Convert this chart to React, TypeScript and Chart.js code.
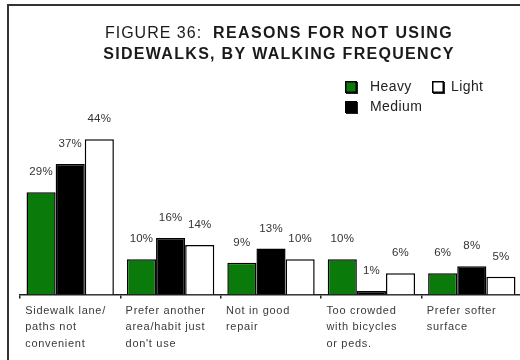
import React, { useEffect, useRef } from "react";
import { Chart, registerables } from "chart.js";

Chart.register(...registerables);

const categories: string[][] = [
  ["Sidewalk lane/", "paths not", "convenient"],
  ["Prefer another", "area/habit just", "don't use"],
  ["Not in good", "repair"],
  ["Too crowded", "with bicycles", "or peds."],
  ["Prefer softer", "surface"],
];
const seriesNames = ["Heavy", "Medium", "Light"];
const heavy = [29, 10, 9, 10, 6];
const medium = [37, 16, 13, 1, 8];
const light = [44, 14, 10, 6, 5];
const seriesColors = ["#0a7a0a", "#000000", "#ffffff"];
const titleFigure = "FIGURE 36:  ";
const titleLine1 = "REASONS FOR NOT USING";
const titleLine2 = "SIDEWALKS, BY WALKING FREQUENCY";
const legendOrder = [0, 2, 1];

const FONT = "'Liberation Sans', Arial, sans-serif";

const decor = {
  id: "decor",
  beforeDraw(chart: any) {
    const ctx = chart.ctx as CanvasRenderingContext2D;
    ctx.save();
    ctx.fillStyle = "#ffffff";
    ctx.fillRect(0, 0, chart.width, chart.height);
    // frame
    ctx.fillStyle = "#333333";
    ctx.fillRect(7, 4, 2, chart.height);
    ctx.fillRect(7, 4, chart.width, 2);

    // title
    ctx.textBaseline = "alphabetic";
    ctx.fillStyle = "#1a1a1a";
    (ctx as any).letterSpacing = "1px";
    ctx.font = `16px ${FONT}`;
    const w1 = ctx.measureText(titleFigure).width;
    (ctx as any).letterSpacing = "1.4px";
    ctx.font = `bold 16px ${FONT}`;
    const w2 = ctx.measureText(titleLine1).width;
    const cx = 279;
    const x = cx - (w1 + w2) / 2;
    ctx.textAlign = "left";
    (ctx as any).letterSpacing = "1px";
    ctx.font = `16px ${FONT}`;
    ctx.fillText(titleFigure, x, 38);
    (ctx as any).letterSpacing = "1.4px";
    ctx.font = `bold 16px ${FONT}`;
    ctx.fillText(titleLine1, x + w1, 38);
    (ctx as any).letterSpacing = "1.3px";
    ctx.textAlign = "center";
    ctx.fillText(titleLine2, cx, 59);

    // legend
    (ctx as any).letterSpacing = "0.4px";
    ctx.font = `14px ${FONT}`;
    ctx.textAlign = "left";
    ctx.textBaseline = "middle";
    const slots = [
      { x: 345, y: 87 },
      { x: 432, y: 87 },
      { x: 345, y: 107 },
    ];
    legendOrder.forEach((di, k) => {
      const s = slots[k];
      const ds = chart.data.datasets[di];
      ctx.fillStyle = "#222";
      ctx.fillRect(s.x + 1, s.y - 5, 12, 12);
      ctx.fillStyle = ds.backgroundColor;
      ctx.fillRect(s.x, s.y - 6, 12, 12);
      ctx.strokeStyle = "#000";
      ctx.lineWidth = 1.5;
      ctx.strokeRect(s.x + 0.75, s.y - 5.25, 10.5, 10.5);
      ctx.fillStyle = "#222";
      ctx.fillText(ds.label, s.x + (k === 1 ? 19 : 25), s.y);
    });
    ctx.restore();
    (ctx as any).letterSpacing = "0.7px";
  },
  afterDatasetsDraw(chart: any) {
    const ctx = chart.ctx as CanvasRenderingContext2D;
    ctx.save();
    (ctx as any).letterSpacing = "0.2px";
    ctx.font = `11.5px ${FONT}`;
    ctx.fillStyle = "#333";
    ctx.textAlign = "center";
    ctx.textBaseline = "alphabetic";
    chart.data.datasets.forEach((ds: any, di: number) => {
      const meta = chart.getDatasetMeta(di);
      meta.data.forEach((bar: any, i: number) => {
        ctx.fillText(`${ds.data[i]}%`, bar.x, bar.y - 17);
      });
    });
    ctx.restore();
    (ctx as any).letterSpacing = "0.7px";
  },
  afterDraw(chart: any) {
    (chart.ctx as any).letterSpacing = "0px";
  },
};

export default function App() {
  const ref = useRef<HTMLCanvasElement>(null);
  useEffect(() => {
    if (!ref.current) return;
    const chart = new Chart(ref.current, {
      type: "bar",
      data: {
        labels: categories,
        datasets: [heavy, medium, light].map((d, i) => ({
          label: seriesNames[i],
          data: d,
          backgroundColor: seriesColors[i],
          borderColor: "#000",
          borderWidth: 1.5,
          categoryPercentage: 0.87,
          barPercentage: 1,
        })),
      },
      options: {
        animation: false,
        responsive: false,
        devicePixelRatio: 1,
        layout: { padding: { left: 20, right: 23, top: 118, bottom: 4 } },
        plugins: {
          legend: { display: false },
          title: { display: false },
          tooltip: { enabled: false },
        },
        scales: {
          y: { display: false, min: 0, max: 50 },
          x: {
            border: { display: true, color: "#222", width: 1.5 },
            grid: {
              offset: true,
              drawOnChartArea: false,
              drawTicks: true,
              tickLength: 4,
              color: "#222",
              lineWidth: 1.5,
            },
            ticks: {
              autoSkip: false,
              maxRotation: 0,
              minRotation: 0,
              align: "start",
              labelOffset: -45,
              padding: 4,
              color: "#3a3a3a",
              font: { family: FONT, size: 11, lineHeight: 1.5 },
            },
          },
        },
      },
      plugins: [decor],
    });
    return () => chart.destroy();
  }, []);
  return (
    <div
      style={{
        position: "fixed",
        left: 0,
        top: 0,
        width: 520,
        height: 360,
        overflow: "hidden",
        background: "#fff",
      }}
    >
      <canvas ref={ref} width={545} height={360} style={{ display: "block" }} />
    </div>
  );
}
